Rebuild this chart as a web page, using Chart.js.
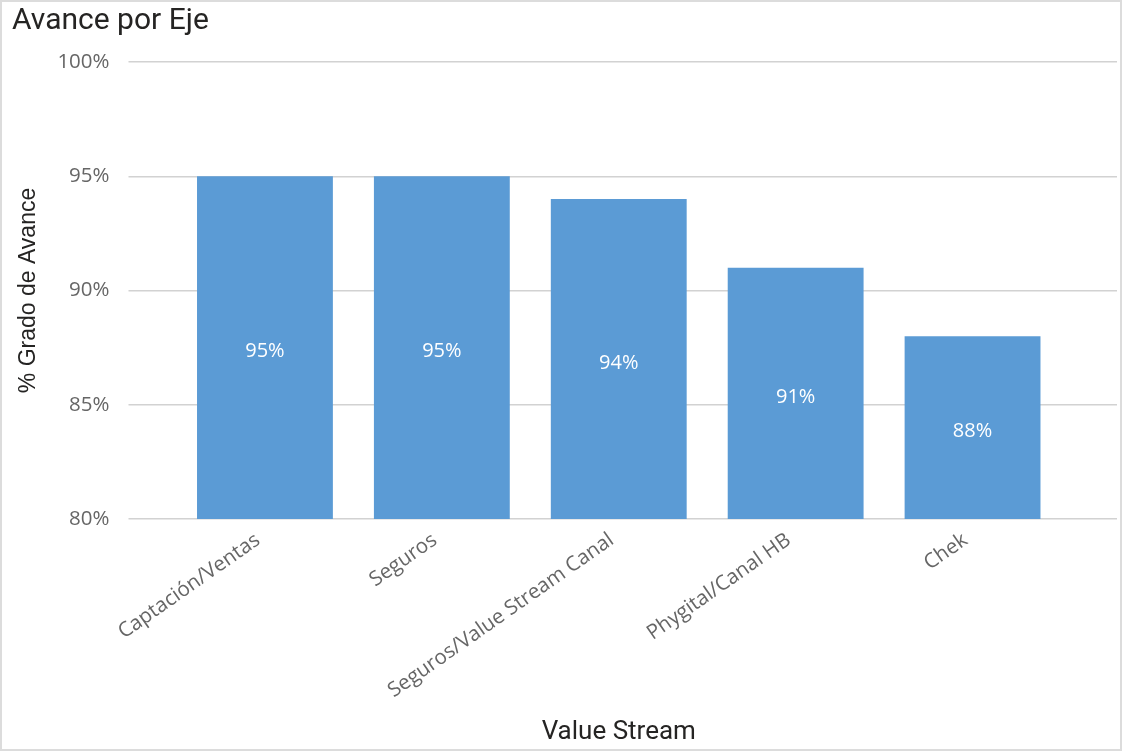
<!DOCTYPE html>
<html>
<head>
<meta charset="utf-8">
<title>Avance por Eje</title>
<script src="https://cdn.jsdelivr.net/npm/chart.js@4"></script>
<style>
    html, body { margin: 0; padding: 0; background: #ffffff; }
    .frame {
        width: 1122px;
        height: 751px;
        box-sizing: border-box;
        border: 2px solid #dcdcdc;
        position: relative;
    }
</style>
</head>
<body>
<div class="frame">
    <canvas id="avanceChart"></canvas>
</div>
<script>

// Data
const categories = ['Captación/Ventas', 'Seguros', 'Seguros/Value Stream Canal', 'Phygital/Canal HB', 'Chek'];
const avance = [95, 95, 94, 91, 88];
const yTicks = [80, 85, 90, 95, 100];

const barColor = '#5b9bd5';
const gridColor = '#d2d2d2';
const tickFont = '"Open Sans", "Noto Sans", sans-serif';
const headFont = 'Roboto, "Noto Sans", sans-serif';

// writes the value in the middle of the visible part of every bar
const barValueLabels = {
    id: 'barValueLabels',
    afterDraw: function(chart) {
        const c = chart.ctx;
        const area = chart.chartArea;
        const meta = chart.getDatasetMeta(0);
        c.save();
        c.fillStyle = '#ffffff';
        c.font = '20px ' + tickFont;
        c.textAlign = 'center';
        c.textBaseline = 'middle';
        meta.data.forEach(function(bar, i) {
            const p = bar.getProps(['x', 'y', 'base'], true);
            // base sits at value 0, far below the axis minimum
            const bottom = Math.min(p.base, area.bottom);
            c.fillText(avance[i] + '%', p.x, (p.y + bottom) / 2 + 4);
        });
        c.restore();
    }
};

document.addEventListener('DOMContentLoaded', function() {

    const canvas = document.getElementById('avanceChart');
    new Chart(canvas, {
        type: 'bar',
        data: {
            labels: categories,
            datasets: [{
                label: '% Grado de Avance',
                data: avance,
                backgroundColor: barColor,
                borderWidth: 0,
                categoryPercentage: 1,
                barPercentage: 0.768
            }]
        },
        options: {
            responsive: true,
            maintainAspectRatio: false,
            animation: false,
            layout: {
                padding: { left: 10, right: 3, top: 0, bottom: 0 }
            },
            plugins: {
                legend: { display: false },
                tooltip: { enabled: false },
                title: {
                    display: true,
                    text: 'Avance por Eje',
                    align: 'start',
                    color: '#252423',
                    font: { family: headFont, size: 30, weight: 'normal' },
                    padding: { top: 1, bottom: 23 }
                }
            },
            scales: {
                x: {
                    offset: true,
                    grid: { display: false },
                    border: { display: false },
                    ticks: {
                        color: '#666666',
                        font: { family: tickFont, size: 20.5 },
                        minRotation: 35,
                        maxRotation: 35,
                        padding: 1,
                        labelOffset: -7
                    },
                    title: {
                        display: true,
                        text: 'Value Stream',
                        color: '#252423',
                        font: { family: headFont, size: 26 },
                        padding: { top: 0, bottom: 1 }
                    },
                    afterFit: function(scale) {
                        scale.height = 230;
                    }
                },
                y: {
                    position: 'left',
                    min: yTicks[0],
                    max: yTicks[yTicks.length - 1],
                    afterBuildTicks: function(scale) {
                        scale.ticks = yTicks.map(function(v) { return { value: v }; });
                    },
                    grid: {
                        color: gridColor,
                        lineWidth: 1.5,
                        drawTicks: true,
                        tickLength: 48
                    },
                    border: { display: false },
                    ticks: {
                        color: '#666666',
                        font: { family: tickFont, size: 20.5 },
                        padding: 19,
                        callback: function(value) {
                            return value + '%';
                        }
                    },
                    title: {
                        display: true,
                        text: '% Grado de Avance',
                        color: '#252423',
                        font: { family: '"Liberation Sans", Arial, sans-serif', size: 23 },
                        padding: { top: 3, bottom: 0 }
                    },
                    afterFit: function(scale) {
                        scale.width = 164.5;
                    }
                },
                // only carries the gridlines out to the right edge
                yRight: {
                    position: 'right',
                    min: yTicks[0],
                    max: yTicks[yTicks.length - 1],
                    afterBuildTicks: function(scale) {
                        scale.ticks = yTicks.map(function(v) { return { value: v }; });
                    },
                    grid: {
                        color: gridColor,
                        lineWidth: 1.5,
                        drawOnChartArea: false,
                        drawTicks: true,
                        tickLength: 56
                    },
                    border: { display: false },
                    ticks: { display: false },
                    afterFit: function(scale) {
                        scale.width = 56;
                    }
                }
            }
        },
        plugins: [barValueLabels]
    });

});
</script>
</body>
</html>
